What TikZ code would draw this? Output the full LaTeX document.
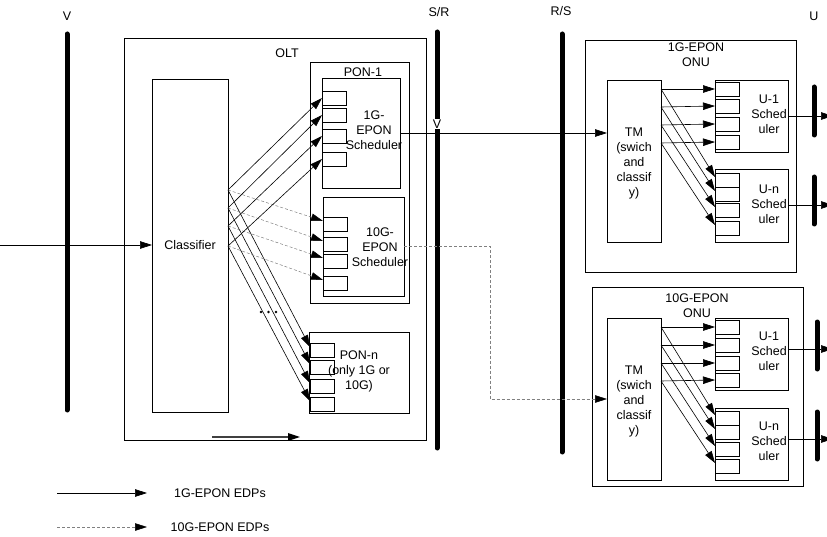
\documentclass[tikz,border=0pt]{standalone}
\usepackage{fontspec}
\setmainfont{Liberation Sans}
\usetikzlibrary{arrows.meta,calc,fit}
\begin{document}
\begin{tikzpicture}[x=1pt,y=-1pt,
  box/.style={draw, line width=0.6pt, inner sep=0pt, outer sep=0pt},
  qbox/.style={draw, line width=0.6pt, minimum width=24pt, minimum height=14pt, inner sep=0pt, outer sep=0pt, anchor=north west},
  bar/.style={line width=5pt, line cap=round},
  sarr/.style={line width=0.6pt, -{Triangle[length=12pt,width=7.5pt]}},
  darr/.style={line width=0.5pt, gray, dash pattern=on 3pt off 2pt, -{Triangle[length=12pt,width=7.5pt,color=black]}},
  lbl/.style={font=\fontsize{12.5}{15}\selectfont, inner sep=0pt, align=center},
]
\useasboundingbox (0,0) rectangle (827,537);

% reference bars
\draw[bar] (67,34) -- (67,410);
\draw[bar] (437,32) -- (437,448);
\draw[bar] (562,34) -- (562,452);
\node[lbl] (lV) at (67,16) {V};
\node[lbl] (lSR) at (439,12) {S/R};
\node[lbl] (lRS) at (561,11) {R/S};
\node[lbl] (lU) at (814,16) {U};

% OLT
\node[box, fit={(124,38) (426,440)}] (olt) {};
\node[lbl] (loltt) at (287,53) {OLT};
\node[box, fit={(152,79) (228,412)}] (cls) {};
\node[lbl] (lcls) at (190,245) {Classifier};
\coordinate (in) at (0,245);
\draw[sarr] (in) -- (cls.west |- in);

% PON-1
\node[box, fit={(310,62) (409,303)}] (pon1) {};
\node[lbl] (lpon1) at (363,72) {PON-1};
\node[box, fit={(322,78) (400,188)}] (s1g) {};
\node[lbl] (ls1g) at (374,130) {1G-\\EPON\\Scheduler};
\node[qbox] (qa1) at (322,91) {};
\node[qbox] (qa2) at (322,108) {};
\node[qbox] (qa3) at (322,129) {};
\node[qbox] (qa4) at (322,152) {};
\node[box, fit={(323,197) (404,296)}] (s10g) {};
\node[lbl] (ls10g) at (380,247) {10G-\\EPON\\Scheduler};
\node[qbox] (qb1) at (323,217) {};
\node[qbox] (qb2) at (323,237) {};
\node[qbox] (qb3) at (323,254) {};
\node[qbox] (qb4) at (323,276) {};

% PON-n
\node[box, fit={(309,332) (409,413)}] (ponn) {};
\node[qbox] (qc1) at (310,343) {};
\node[qbox] (qc2) at (310,360) {};
\node[qbox] (qc3) at (310,379) {};
\node[qbox] (qc4) at (310,397) {};
\node[lbl] (lponn) at (359,371) {PON-n\\(only 1G or\\10G)};

% classifier outputs
\coordinate (cs1) at (228,190);
\coordinate (cs2) at (228,208);
\coordinate (cs3) at (228,226);
\coordinate (cs4) at (228,246);
\foreach \i in {1,2,3,4}{
  \draw[sarr] (cs\i) -- (qa\i.west);
  \draw[darr] (cs\i) -- ($(qb\i.west)+(0,-3)$);
  \draw[sarr] (cs\i) -- ($(qc\i.north west)+(0,4)$);
}
\fill (261,312) circle (1.3) (268.5,312) circle (1.3) (276,312) circle (1.3);
\coordinate (ia) at (212,437);
\coordinate (ib) at (300,437);
\draw[line width=1.3pt, darkgray, -{Triangle[length=12pt,width=7.5pt,color=black]}] (ia) -- (ib);

% 1G ONU
\node[box, fit={(585,40) (796,272)}] (onu1) {};
\node[lbl] (lonu1) at (696,55) {1G-EPON\\ONU};
\node[box, fit={(607,80) (661,242)}] (tm1) {};
\node[lbl] (ltm1) at (634,163) {TM\\(swich\\and\\classif\\y)};
\node[box, fit={(715,80) (788,152)}] (ua1) {};
\node[qbox] (ra1) at (715,82) {};
\node[qbox] (ra2) at (715,99) {};
\node[qbox] (ra3) at (715,117) {};
\node[qbox] (ra4) at (715,135) {};
\node[lbl] (lua1) at (769,114) {U-1\\Sched\\uler};
\node[box, fit={(715,169) (788,242)}] (un1) {};
\node[qbox] (rb1) at (715,173) {};
\node[qbox] (rb2) at (715,187) {};
\node[qbox] (rb3) at (715,203) {};
\node[qbox] (rb4) at (715,221) {};
\node[lbl] (lun1) at (769,204) {U-n\\Sched\\uler};
\coordinate (ts1) at (661,89);
\coordinate (ts2) at (661,107);
\coordinate (ts3) at (661,125);
\coordinate (ts4) at (661,143);
\foreach \i in {1,2,3,4}{
  \draw[sarr] (ts\i) -- (ra\i.west);
  \draw[sarr] (ts\i) -- ($(rb\i.north west)+(0,4)$);
}
\draw[bar] (814,87) -- (814,135);
\draw[bar] (814,177) -- (814,224);
\coordinate (oa1) at (833,116);
\coordinate (ob1) at (833,205);
\draw[sarr] (ua1.east |- oa1) -- (oa1);
\draw[sarr] (un1.east |- ob1) -- (ob1);

% 10G ONU
\node[box, fit={(592,287) (803,486)}] (onu2) {};
\node[lbl] (lonu2) at (697,306) {10G-EPON\\ONU};
\node[box, fit={(607,318) (661,480)}] (tm2) {};
\node[lbl] (ltm2) at (634,401) {TM\\(swich\\and\\classif\\y)};
\node[box, fit={(715,318) (788,390)}] (ua2) {};
\node[qbox] (sa1) at (715,320) {};
\node[qbox] (sa2) at (715,338) {};
\node[qbox] (sa3) at (715,356) {};
\node[qbox] (sa4) at (715,373) {};
\node[lbl] (lua2) at (769,351) {U-1\\Sched\\uler};
\node[box, fit={(715,408) (788,480)}] (un2) {};
\node[qbox] (sb1) at (715,411) {};
\node[qbox] (sb2) at (715,425) {};
\node[qbox] (sb3) at (715,442) {};
\node[qbox] (sb4) at (715,459) {};
\node[lbl] (lun2) at (769,441) {U-n\\Sched\\uler};
\coordinate (us1) at (661,327);
\coordinate (us2) at (661,345);
\coordinate (us3) at (661,363);
\coordinate (us4) at (661,381);
\foreach \i in {1,2,3,4}{
  \draw[sarr] (us\i) -- (sa\i.west);
  \draw[sarr] (us\i) -- ($(sb\i.north west)+(0,4)$);
}
\draw[bar] (817,322) -- (817,369);
\draw[bar] (817,412) -- (817,459);
\coordinate (oa2) at (833,349);
\coordinate (ob2) at (833,439);
\draw[sarr] (ua2.east |- oa2) -- (oa2);
\draw[sarr] (un2.east |- ob2) -- (ob2);

% OLT to ONUs
\node[lbl, fill=white, inner sep=0.5pt] (vmark) at (437,124) {V};
\draw[sarr] (s1g.east) -- (s1g.east -| tm1.west);
\coordinate (dk1) at (490,0);
\draw[darr] (s10g.east) -| (dk1 |- tm2.west) -- (tm2.west);

% legend
\coordinate (la1) at (57,493);
\coordinate (la2) at (147,493);
\coordinate (lb1) at (57,527);
\coordinate (lb2) at (147,527);
\draw[sarr] (la1) -- (la2);
\draw[darr] (lb1) -- (lb2);
\node[lbl] (lt1) at (220,493) {1G-EPON EDPs};
\node[lbl] (lt2) at (220,527) {10G-EPON EDPs};
\end{tikzpicture}
\end{document}
